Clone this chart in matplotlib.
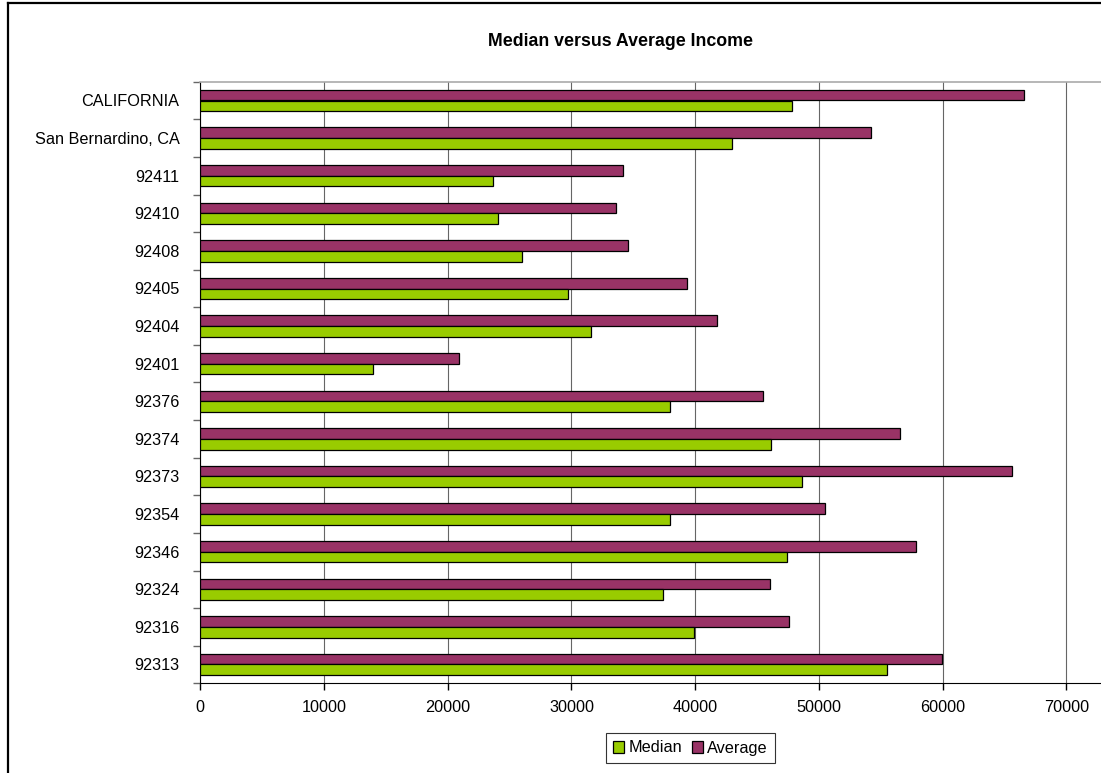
#!/usr/bin/env python3
# -*- coding: utf-8 -*-

import matplotlib
matplotlib.use('Agg')
import matplotlib.pyplot as plt
from matplotlib.lines import Line2D
import numpy as np


plt.rcParams['font.family'] = ['Liberation Sans', 'DejaVu Sans']

TITLE = 'Median versus Average Income'

# top to bottom, as in the chart
categories = [
    'CALIFORNIA', 'San Bernardino, CA', '92411', '92410', '92408', '92405',
    '92404', '92401', '92376', '92374', '92373', '92354', '92346', '92324',
    '92316', '92313',
]
median = [47860, 42960, 23670, 24100, 26020, 29760, 31590, 13950,
          37950, 46110, 48620, 37950, 47430, 37400, 39930, 55490]
average = [66610, 54200, 34150, 33580, 34600, 39370, 41770, 20910,
           45460, 56590, 65640, 50480, 57880, 46030, 47570, 59980]

x_ticks = [0, 10000, 20000, 30000, 40000, 50000, 60000, 70000]

GREEN = '#99CC00'
PURPLE = '#993366'

W, H = 1101, 773
fig = plt.figure(figsize=(W / 100, H / 100), dpi=100)
ax = fig.add_axes([200.3 / W, 1 - 683.3 / H, 1 - 200.3 / W, (683.3 - 81.7) / H])

y = np.arange(len(categories))
h = 0.285
ax.barh(y - h / 2, average, height=h, color=PURPLE, edgecolor='black',
        linewidth=0.9, label='Average', zorder=3)
ax.barh(y + h / 2, median, height=h, color=GREEN, edgecolor='black',
        linewidth=0.9, label='Median', zorder=3)

ax.set_xlim(0, 72800)
ax.set_ylim(len(categories) - 0.5, -0.5)

ax.set_xticks(x_ticks)
ax.set_xticklabels([str(v) for v in x_ticks])
ax.set_yticks(y)
ax.set_yticklabels(categories)
ax.set_yticks(np.arange(len(categories) + 1) - 0.5, minor=True)

ax.tick_params(axis='y', which='major', length=0, pad=15, labelsize=11.7)
ax.tick_params(axis='y', which='minor', length=5, width=1, color='#666666',
               direction='out')
ax.tick_params(axis='x', length=5, width=1, color='black', pad=7,
               labelsize=11.7, direction='out')

ax.grid(axis='x', color='#666666', linewidth=0.8, zorder=0)
ax.set_axisbelow(True)

ax.spines['right'].set_visible(False)
ax.spines['top'].set_color('#aaaaaa')
ax.spines['top'].set_linewidth(1.2)
ax.spines['left'].set_color('black')
ax.spines['bottom'].set_color('black')

fig.text(620 / W, 1 - 41 / H, TITLE, ha='center', va='center',
         fontsize=12.8, fontweight='bold')

handles, labels = ax.get_legend_handles_labels()
leg = fig.legend(handles[::-1], labels[::-1], loc='center',
                 bbox_to_anchor=(690.5 / W, 1 - 748 / H), ncol=2,
                 fontsize=11.7, handlelength=0.7, handleheight=0.7,
                 handletextpad=0.25, columnspacing=0.6, borderpad=0.45,
                 fancybox=False, framealpha=1)
leg.get_frame().set_edgecolor('#333333')
leg.get_frame().set_linewidth(0.8)

# outer chart frame, left and top edges only (the rest is cut off)
fig.add_artist(Line2D([7.5 / W, 7.5 / W], [0, 1 - 3 / H], color='black',
                      linewidth=1.6, transform=fig.transFigure))
fig.add_artist(Line2D([7.5 / W, 1], [1 - 3 / H, 1 - 3 / H], color='black',
                      linewidth=1.6, transform=fig.transFigure))

fig.savefig('out.png', dpi=100)
